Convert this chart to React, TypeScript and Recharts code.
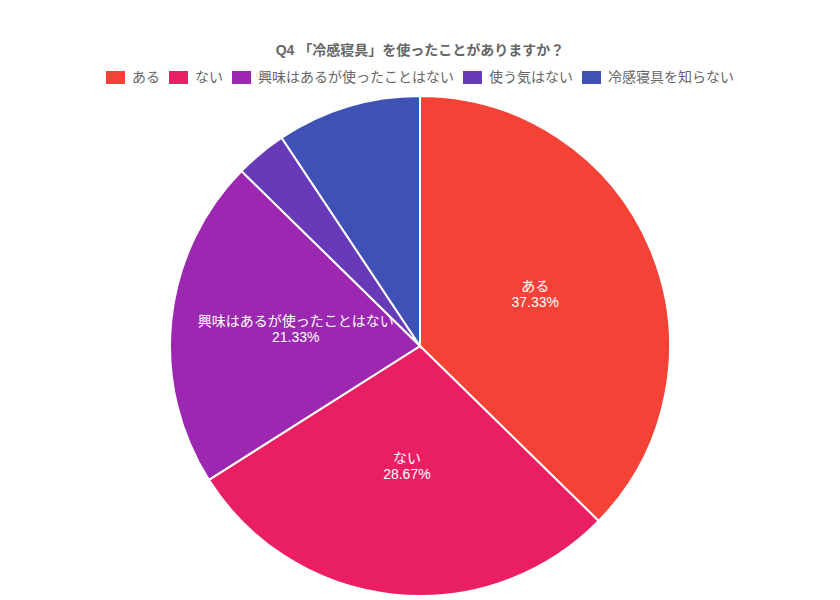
import { PieChart, Pie, Cell } from "recharts";

const categories = ["ある", "ない", "興味はあるが使ったことはない", "使う気はない", "冷感寝具を知らない"];
const percents = [37.33, 28.67, 21.33, 3.33, 9.33];
const colors = ["#F44336", "#E91E63", "#9C27B0", "#673AB7", "#3F51B5"];
const title = "Q4 「冷感寝具」を使ったことがありますか？";

const data = categories.map((name, i) => ({ name, value: percents[i] }));

const FONT = "'Liberation Sans', 'Noto Sans CJK JP', sans-serif";
const RAD = Math.PI / 180;

// chart.js datalabels style: name + percent at the middle of the radius, only for big slices
const renderLabel = (props: any) => {
  const { cx, cy, midAngle, outerRadius, index } = props;
  const v = percents[index];
  if (v < 10) return null;
  const r = outerRadius / 2;
  const x = cx + r * Math.cos(-midAngle * RAD);
  const y = cy + r * Math.sin(-midAngle * RAD) - 4;
  return (
    <text x={x} y={y} fill="#fff" fontSize={14} fontFamily={FONT} textAnchor="middle">
      <tspan x={x} dy={-3}>{categories[index]}</tspan>
      <tspan x={x} dy={16}>{v.toFixed(2)}%</tspan>
    </text>
  );
};

export default function App() {
  return (
    <div style={{ position: "relative", width: 840, height: 600, background: "#fff", fontFamily: FONT }}>
      <style>{"body{margin:0}"}</style>
      <div
        style={{
          position: "absolute",
          top: 41,
          left: 0,
          width: 840,
          textAlign: "center",
          fontSize: 14,
          fontWeight: "bold",
          color: "#666",
          lineHeight: "18px",
        }}
      >
        {title}
      </div>
      <div
        style={{
          position: "absolute",
          top: 68,
          left: 0,
          width: 840,
          display: "flex",
          justifyContent: "center",
          fontSize: 14,
          color: "#666",
          lineHeight: "18px",
        }}
      >
        {categories.map((c, i) => (
          <div key={c} style={{ display: "flex", alignItems: "center", marginRight: i < categories.length - 1 ? 9 : 0 }}>
            <span style={{ display: "inline-block", width: 19, height: 13, background: colors[i], marginRight: 7 }} />
            <span>{c}</span>
          </div>
        ))}
      </div>
      <div style={{ position: "absolute", top: 0, left: 0 }}>
        <PieChart width={840} height={600} margin={{ top: 0, right: 0, bottom: 0, left: 0 }}>
          <Pie
            data={data}
            dataKey="value"
            nameKey="name"
            cx={420}
            cy={346}
            outerRadius={250}
            startAngle={90}
            endAngle={-270}
            stroke="#fff"
            strokeWidth={2}
            label={renderLabel}
            labelLine={false}
            isAnimationActive={false}
          >
            {data.map((d, i) => (
              <Cell key={d.name} fill={colors[i]} />
            ))}
          </Pie>
        </PieChart>
      </div>
    </div>
  );
}
